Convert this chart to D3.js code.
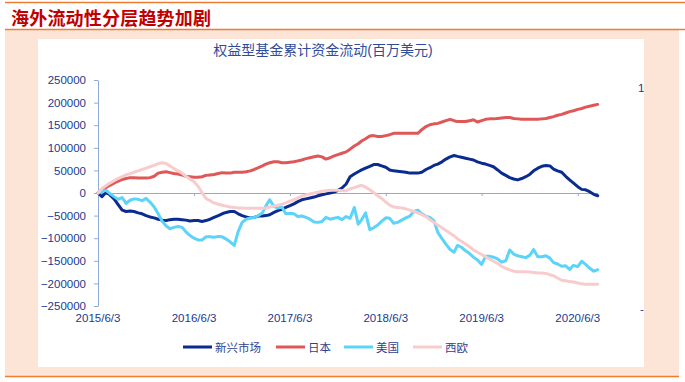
<!DOCTYPE html>
<html><head><meta charset="utf-8">
<script src="https://cdn.jsdelivr.net/npm/d3@7"></script>
<style>
html,body{margin:0;padding:0;background:#fff;}
svg{display:block;}
text{font-family:"Liberation Sans","Noto Sans CJK SC",sans-serif;}
</style></head>
<body><svg id="c" width="685" height="382"></svg>
<script>
const pageTitle = "海外流动性分层趋势加剧";
const chartTitle = "权益型基金累计资金流动(百万美元)";
const seriesNames = ["新兴市场","日本","美国","西欧"];
const seriesColors = ["#0b2b8f","#e05757","#5cd3f8","#f8cccc"];
const yTicks = [-250000,-200000,-150000,-100000,-50000,0,50000,100000,150000,200000,250000];
const xTickDates = ["2015-06-03","2016-06-03","2017-06-03","2018-06-03","2019-06-03","2020-06-03"];
const xTickLabels = ["2015/6/3","2016/6/3","2017/6/3","2018/6/3","2019/6/3","2020/6/3"];

const dates = [
"2015-06-03","2015-06-18","2015-07-03","2015-07-18","2015-08-03","2015-08-18","2015-09-03","2015-09-18","2015-10-03","2015-10-18","2015-11-03","2015-11-18","2015-12-03","2015-12-18",
"2016-01-03","2016-01-18","2016-02-03","2016-02-18","2016-03-03","2016-03-18","2016-04-03","2016-04-18","2016-05-03","2016-05-18","2016-06-03","2016-06-18","2016-07-03","2016-07-18","2016-08-03","2016-08-18","2016-09-03","2016-09-18","2016-10-03","2016-10-18","2016-11-03","2016-11-18","2016-12-03","2016-12-18",
"2017-01-03","2017-01-18","2017-02-03","2017-02-18","2017-03-03","2017-03-18","2017-04-03","2017-04-18","2017-05-03","2017-05-18","2017-06-03","2017-06-18","2017-07-03","2017-07-18","2017-08-03","2017-08-18","2017-09-03","2017-09-18","2017-10-03","2017-10-18","2017-11-03","2017-11-18","2017-12-03","2017-12-18",
"2018-01-03","2018-01-18","2018-02-03","2018-02-18","2018-03-03","2018-03-18","2018-04-03","2018-04-18","2018-05-03","2018-05-18","2018-06-03","2018-06-18","2018-07-03","2018-07-18","2018-08-03","2018-08-18","2018-09-03","2018-09-18","2018-10-03","2018-10-18","2018-11-03","2018-11-18","2018-12-03","2018-12-18",
"2019-01-03","2019-01-18","2019-02-03","2019-02-18","2019-03-03","2019-03-18","2019-04-03","2019-04-18","2019-05-03","2019-05-18","2019-06-03","2019-06-18","2019-07-03","2019-07-18","2019-08-03","2019-08-18","2019-09-03","2019-09-18","2019-10-03","2019-10-18","2019-11-03","2019-11-18","2019-12-03","2019-12-18",
"2020-01-03","2020-01-18","2020-02-03","2020-02-18","2020-03-03","2020-03-18","2020-04-03","2020-04-18","2020-05-03","2020-05-18","2020-06-03","2020-06-18","2020-07-03","2020-07-18","2020-08-03","2020-08-18"];

const emerging = [0,-8000,1000,-4000,-13000,-25000,-38000,-41000,-40000,-41000,-44000,-46000,-50000,-53000,-55000,-58000,-60000,-61000,-59000,-58000,-58000,-59000,-60000,-62000,-61000,-61000,-63000,-61000,-58000,-54000,-50000,-46000,-43000,-41000,-41000,-46000,-50000,-53000,-55000,-54000,-51000,-51000,-50000,-48000,-43000,-39000,-36000,-32000,-28000,-24000,-19000,-15000,-13000,-11000,-9000,-6000,-4000,-2000,0,2000,6000,11000,20000,36000,42000,47000,51000,55000,59000,63000,63000,60000,57000,51000,49000,48000,47000,46000,44000,44000,44000,46000,52000,56000,61000,64000,69000,75000,80000,83000,81000,79000,77000,75000,73000,69000,66000,64000,61000,58000,51000,44000,39000,34000,31000,29000,32000,36000,41000,49000,55000,59000,61000,60000,53000,49000,46000,37000,29000,22000,14000,8000,7000,3000,-3000,-6000];

const japan = [0,7000,12000,17000,22000,26000,30000,32000,34000,34000,33000,33000,33000,34000,37000,44000,46000,47000,45000,43000,42000,40000,37000,36000,35000,35000,36000,39000,40000,41000,43000,45000,44000,44000,46000,46000,46000,47000,49000,52000,56000,60000,64000,67000,69000,69000,67000,67000,68000,69000,71000,73000,76000,78000,80000,82000,80000,75000,78000,82000,85000,88000,91000,97000,104000,109000,115000,120000,126000,127000,125000,125000,127000,129000,132000,132000,132000,132000,132000,132000,132000,140000,147000,151000,153000,154000,157000,160000,163000,160000,158000,158000,158000,160000,162000,157000,160000,163000,164000,164000,165000,166000,167000,167000,165000,164000,163000,163000,163000,163000,163000,164000,165000,167000,169000,172000,174000,177000,180000,182000,185000,187000,190000,192000,194000,196000];

const usa = [0,3000,6000,-1000,-8000,-14000,-10000,-23000,-16000,-13000,-14000,-17000,-12000,-20000,-31000,-46000,-63000,-73000,-79000,-76000,-74000,-76000,-86000,-94000,-100000,-104000,-104000,-97000,-97000,-98000,-96000,-97000,-102000,-108000,-116000,-85000,-65000,-58000,-55000,-54000,-50000,-44000,-29000,-15000,-30000,-33000,-31000,-46000,-45000,-46000,-52000,-51000,-54000,-58000,-64000,-65000,-63000,-54000,-58000,-56000,-54000,-59000,-52000,-56000,-32000,-69000,-59000,-44000,-81000,-77000,-71000,-63000,-55000,-56000,-67000,-65000,-60000,-55000,-51000,-41000,-38000,-46000,-51000,-54000,-61000,-87000,-101000,-113000,-125000,-131000,-116000,-120000,-128000,-134000,-142000,-148000,-158000,-140000,-140000,-142000,-146000,-153000,-150000,-126000,-135000,-139000,-141000,-143000,-138000,-125000,-141000,-141000,-139000,-144000,-154000,-157000,-162000,-161000,-169000,-160000,-163000,-151000,-158000,-166000,-173000,-170000];

const westEurope = [0,10000,16000,22000,27000,32000,36000,40000,43000,46000,49000,52000,55000,58000,61000,65000,67000,65000,60000,54000,49000,44000,37000,31000,25000,15000,1000,-12000,-17000,-22000,-25000,-27000,-29000,-31000,-32000,-33000,-33000,-34000,-34000,-34000,-34000,-34000,-33000,-31000,-29000,-27000,-25000,-22000,-18000,-15000,-11000,-7000,-4000,-2000,0,2000,4000,5000,6000,6000,6000,5000,5000,9000,12000,15000,17000,13000,7000,1000,-6000,-12000,-20000,-27000,-31000,-32000,-33000,-35000,-38000,-41000,-44000,-48000,-52000,-59000,-65000,-71000,-77000,-83000,-89000,-95000,-101000,-107000,-113000,-119000,-126000,-131000,-136000,-141000,-146000,-151000,-156000,-162000,-167000,-170000,-173000,-174000,-174000,-174000,-175000,-176000,-177000,-177000,-178000,-181000,-183000,-188000,-193000,-194000,-196000,-197000,-199000,-201000,-202000,-202000,-202000,-202000];

const seriesValues = [emerging, japan, usa, westEurope];

const svg = d3.select("#c");
const W = 685, H = 382;
const orange = "#ee7d32";

// page frame
svg.append("rect").attr("x",5).attr("y",30).attr("width",674).attr("height",346).attr("fill","#fce4d6");
svg.append("rect").attr("x",38).attr("y",39).attr("width",606).attr("height",328).attr("fill","#ffffff");
svg.append("line").attr("x1",5).attr("x2",685).attr("y1",2.5).attr("y2",2.5).attr("stroke",orange).attr("stroke-width",1.5);
svg.append("line").attr("x1",5).attr("x2",685).attr("y1",29.5).attr("y2",29.5).attr("stroke",orange).attr("stroke-width",1.5);
svg.append("line").attr("x1",5).attr("x2",679).attr("y1",376.5).attr("y2",376.5).attr("stroke",orange).attr("stroke-width",1.5);
svg.append("text").attr("x",11).attr("y",25).text(pageTitle)
  .attr("fill","#c00000").attr("font-size",18).attr("font-weight","bold")
  .style("font-family","'Noto Sans CJK SC',sans-serif").attr("letter-spacing",0.2);

// chart title
svg.append("text").attr("x",323).attr("y",55).attr("text-anchor","middle").text(chartTitle)
  .attr("fill","#2f4c9c").attr("font-size",14);

const parse = d3.timeParse("%Y-%m-%d");
const dateObjs = dates.map(parse);
const x = d3.scaleTime().domain([dateObjs[0], dateObjs[dateObjs.length-1]]).range([98, 597.7]);
const y = d3.scaleLinear().domain([-250000, 250000]).range([306, 80]);

const navy = "#203a8f";
const axisBlue = "#8eaadb";

// y axis
const gy = svg.append("g").attr("transform","translate(98,0)")
  .call(d3.axisLeft(y).tickValues(yTicks).tickSize(4).tickSizeOuter(0).tickPadding(8).tickFormat(d3.format("d")));
gy.select(".domain").attr("stroke",axisBlue);
gy.selectAll(".tick line").attr("stroke",axisBlue);
gy.selectAll(".tick text").attr("fill",navy).attr("font-size",11.5)
  .style("font-family","'Liberation Sans',sans-serif");

// x axis at zero
const gx = svg.append("g").attr("transform",`translate(0,${y(0)})`)
  .call(d3.axisBottom(x).tickValues(xTickDates.map(parse)).tickSize(3).tickSizeOuter(0).tickFormat(""));
gx.select(".domain").attr("stroke",axisBlue).attr("stroke-width",1.2);
gx.selectAll(".tick line").attr("stroke",axisBlue);

// x labels at bottom
svg.append("g").selectAll("text").data(xTickDates).join("text")
  .attr("x", d => x(parse(d))).attr("y", 322).attr("text-anchor","middle")
  .attr("fill",navy).attr("font-size",11.5)
  .text((d,i) => xTickLabels[i]);

// lines
const line = d3.line().x((d,i) => x(dateObjs[i])).y(d => y(d)).curve(d3.curveLinear);
seriesValues.forEach((vals, k) => {
  svg.append("path").datum(vals).attr("d", line)
    .attr("fill","none").attr("stroke",seriesColors[k]).attr("stroke-width",3)
    .attr("stroke-linejoin","round").attr("stroke-linecap","round");
});

// legend
const legX = [183, 276, 344, 413];
const lg = svg.append("g");
seriesNames.forEach((n,k) => {
  lg.append("line").attr("x1",legX[k]).attr("x2",legX[k]+29).attr("y1",347).attr("y2",347)
    .attr("stroke",seriesColors[k]).attr("stroke-width",3);
  lg.append("text").attr("x",legX[k]+32).attr("y",351.5).text(n)
    .attr("fill","#2f3f8f").attr("font-size",11.5)
    .style("font-family","'Noto Sans CJK SC',sans-serif");
});

// clipped fragments of a secondary axis at right edge
const clip = svg.append("clipPath").attr("id","rc");
clip.append("rect").attr("x",600).attr("y",39).attr("width",44).attr("height",328);
const rg = svg.append("g").attr("clip-path","url(#rc)");
rg.append("text").attr("x",638).attr("y",92).text("1").attr("fill",navy).attr("font-size",11.5);
rg.append("text").attr("x",640).attr("y",313).text("-").attr("fill",navy).attr("font-size",11.5);
</script></body></html>
